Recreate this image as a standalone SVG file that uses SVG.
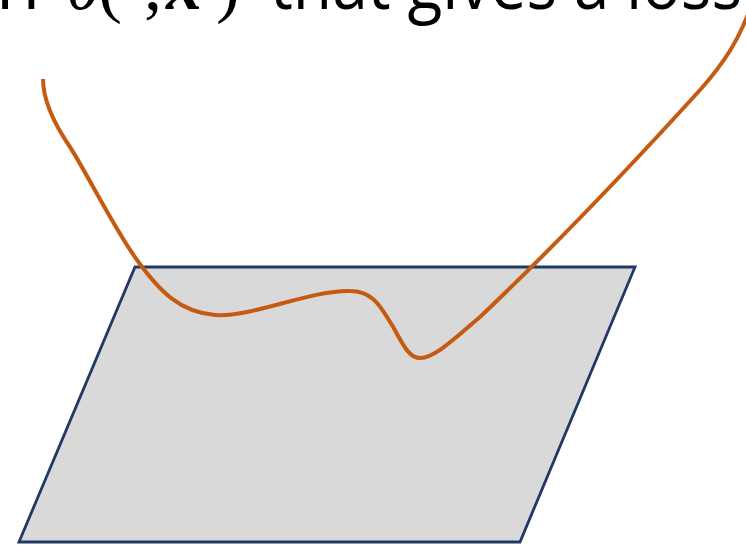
<svg xmlns="http://www.w3.org/2000/svg" width="746" height="545" viewBox="0 0 746 545">
  <style>
    .sans { font-family: "Open Sans", "Liberation Sans", sans-serif; font-size: 72px; fill: #000; }
    .math { font-family: "Liberation Serif", serif; font-size: 72px; fill: #000; }
    .it { font-style: italic; }
    .plane { fill: #D9D9D9; stroke: #1F3864; stroke-width: 2.8; stroke-linejoin: miter; }
    .loss { fill: none; stroke: #C55A11; stroke-width: 4; stroke-linecap: butt; }
  </style>
  <rect width="746" height="545" fill="#fff"/>
  <g id="title">
    <text class="sans" x="-4" y="9">n</text>
    <text class="math it" x="66" y="9">θ</text>
    <text class="math" x="98" y="9">(</text>
    <text class="math" x="143" y="9">;</text>
    <text class="math it" x="166" y="9" font-weight="bold">x</text>
    <text class="math" x="216" y="9">)</text>
    <text class="sans" x="270" y="9" textLength="472" lengthAdjust="spacingAndGlyphs">that gives a loss</text>
  </g>
  <g id="plane">
    <polygon class="plane" points="135,267 635,267 520,542 19,542"/>
  </g>
  <g id="connectors">
    <path id="loss-curve" class="loss" d="M43,79 C43,100 55,125 70,147 C85,170 115,230 137,260 C160,292 180,312 215,315 C250,318 310,290 350,291 C375,291 382,310 392,325 C402,342 408,358 420,358 C435,358 455,338 480,317 C560,241 650,145 700,90 C725,62 738,40 748,14"/>
  </g>
</svg>
